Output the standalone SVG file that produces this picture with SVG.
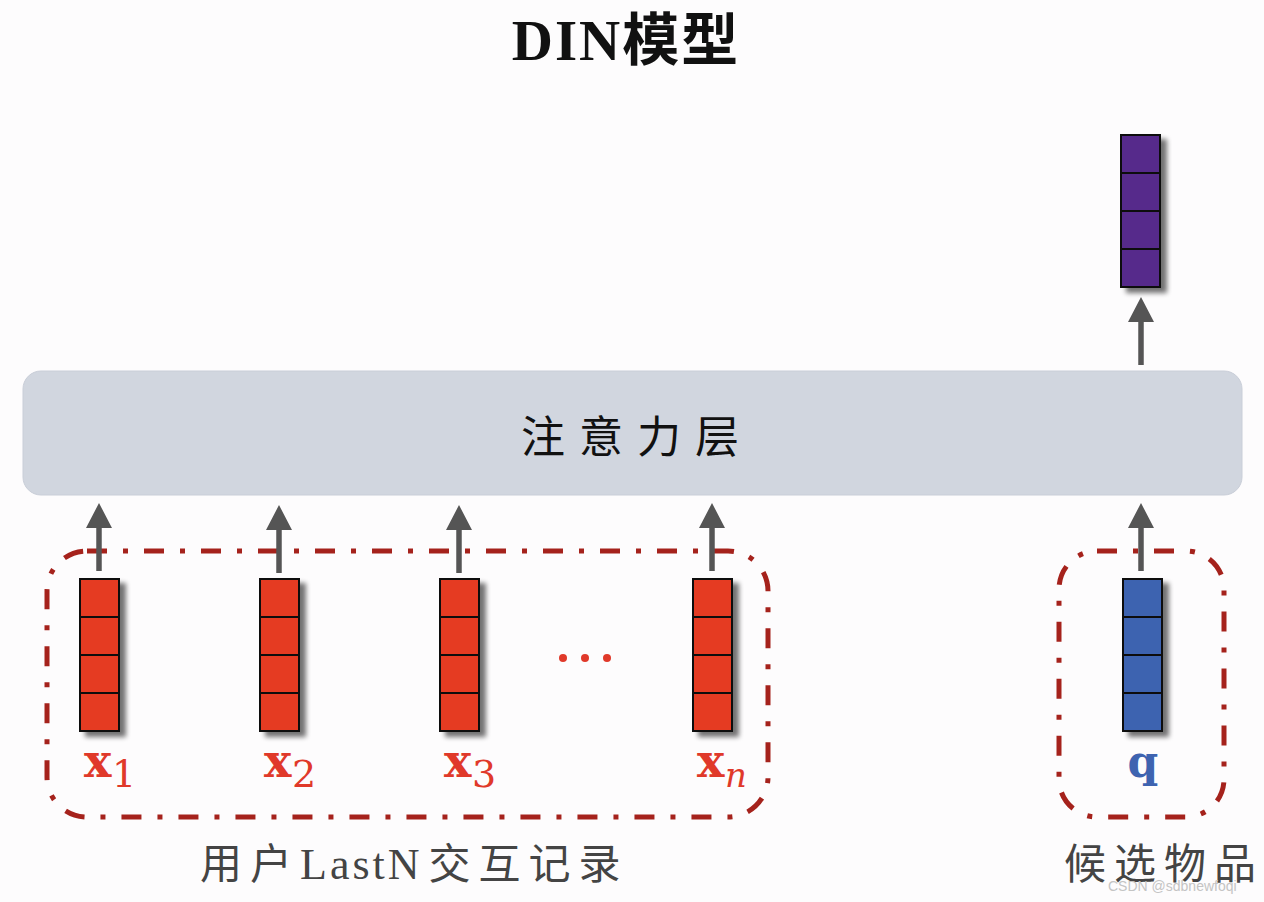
<svg xmlns="http://www.w3.org/2000/svg" width="1264" height="902" viewBox="0 0 1264 902">
<defs>
<style>
.red{fill:#e53a24}
.blue{fill:#3e63b0}
.purple{fill:#56298b}
.arrow{fill:#555}
.dash{fill:none;stroke:#a5221c;stroke-width:5;stroke-dasharray:20 16 5 16}
.cjk{font-family:"Liberation Serif","Noto Sans CJK SC",serif}
.lab{font-family:"DejaVu Serif","Liberation Serif",serif;font-weight:bold}
.sub{font-family:"DejaVu Serif","Liberation Serif",serif}
</style>
<filter id="sh" x="-30%" y="-10%" width="160%" height="130%">
<feGaussianBlur in="SourceAlpha" stdDeviation="2.5"/>
<feOffset dx="6" dy="5" result="b"/>
<feComponentTransfer><feFuncA type="linear" slope="0.55"/></feComponentTransfer>
<feMerge><feMergeNode/><feMergeNode in="SourceGraphic"/></feMerge>
</filter>
<symbol id="v" overflow="visible">
<g stroke="#111" stroke-width="2">
<rect x="0" y="0" width="39" height="38"/>
<rect x="0" y="38" width="39" height="38"/>
<rect x="0" y="76" width="39" height="38"/>
<rect x="0" y="114" width="39" height="38"/>
</g>
</symbol>
<path id="arr" d="M-2.75,0 L-2.75,-43 L-13,-43 L0,-68 L13,-43 L2.75,-43 L2.75,0 Z"/>
</defs>
<rect width="1264" height="902" fill="#fdfcfd"/>

<g id="title">
<text x="626" y="60" text-anchor="middle" class="cjk" font-weight="bold" font-size="57" letter-spacing="2" fill="#111">DIN模型</text>
</g>

<g id="attention">
<rect x="23" y="371" width="1219" height="124" rx="18" fill="#d1d6df" stroke="#c9ced8" stroke-width="1"/>
<text x="637" y="453" text-anchor="middle" class="cjk" font-size="44" letter-spacing="14" fill="#111">注意力层</text>
</g>

<g id="user-group">
<rect class="dash" x="47" y="551" width="721" height="266" rx="40"/>
<text x="200" y="879" class="cjk" font-size="42" fill="#444"><tspan letter-spacing="8">用户</tspan><tspan letter-spacing="3" font-size="44">LastN</tspan><tspan dx="6" letter-spacing="8">交互记</tspan><tspan>录</tspan></text>
</g>

<g id="candidate-group">
<rect class="dash" x="1059" y="551" width="165" height="266" rx="38"/>
<text x="1064" y="879" class="cjk" font-size="42" fill="#444"><tspan letter-spacing="8">候选物</tspan><tspan>品</tspan></text>
</g>

<g id="x1">
<g class="red" filter="url(#sh)"><use href="#v" x="80" y="579"/></g>
<text x="84" y="777" class="lab" font-size="46" fill="#e0392a">x</text>
<text x="112" y="787" class="sub" font-size="38" fill="#e0392a">1</text>
</g>
<g id="x2">
<g class="red" filter="url(#sh)"><use href="#v" x="260" y="579"/></g>
<text x="264" y="777" class="lab" font-size="46" fill="#e0392a">x</text>
<text x="292" y="787" class="sub" font-size="38" fill="#e0392a">2</text>
</g>
<g id="x3">
<g class="red" filter="url(#sh)"><use href="#v" x="440" y="579"/></g>
<text x="444" y="777" class="lab" font-size="46" fill="#e0392a">x</text>
<text x="472" y="787" class="sub" font-size="38" fill="#e0392a">3</text>
</g>
<g id="dots" fill="#e0392a">
<circle cx="563" cy="658" r="4"/>
<circle cx="585" cy="658" r="4"/>
<circle cx="607" cy="658" r="4"/>
</g>
<g id="xn">
<g class="red" filter="url(#sh)"><use href="#v" x="693" y="579"/></g>
<text x="697" y="777" class="lab" font-size="46" fill="#e0392a">x</text>
<text x="725" y="787" class="sub" font-style="italic" font-size="34" fill="#e0392a">n</text>
</g>
<g id="q">
<g class="blue" filter="url(#sh)"><use href="#v" x="1123" y="579"/></g>
<text x="1143" y="777" text-anchor="middle" class="lab" font-size="44" fill="#3e63b0">q</text>
</g>
<g id="output">
<g class="purple" filter="url(#sh)"><use href="#v" x="1121" y="135"/></g>
</g>

<g id="connectors" class="arrow">
<use href="#arr" x="99" y="571"/>
<use href="#arr" x="279" y="573"/>
<use href="#arr" x="459" y="573"/>
<use href="#arr" x="712" y="571"/>
<use href="#arr" x="1141" y="571"/>
<use href="#arr" x="1141" y="365"/>
</g>

<g id="watermark">
<text x="1108" y="891" font-family="Liberation Sans,Arial,sans-serif" font-size="14" fill="#c4c4c4">CSDN @sdbnewfoqi</text>
</g>
</svg>
